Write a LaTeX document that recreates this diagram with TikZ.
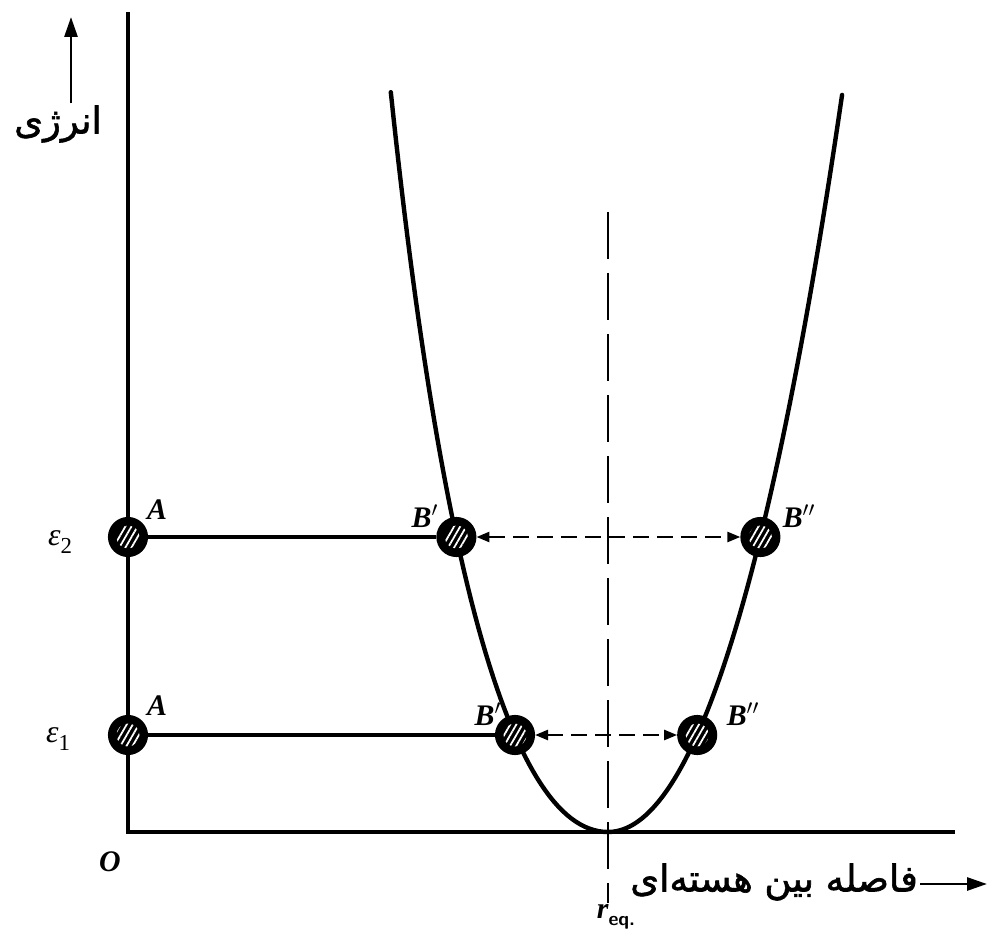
\documentclass[tikz,border=0pt]{standalone}
\usepackage{fontspec}
\setmainfont{Liberation Serif}
\newfontfamily\farsi[Script=Arabic, FakeBold=1.6]{DejaVu Sans}
\TeXXeTstate=1
\usetikzlibrary{arrows.meta,patterns.meta}

\tikzset{
  axis/.style={line width=1.9pt},
  curve/.style={line width=2.5pt, line cap=round},
  level/.style={line width=1.8pt},
  swing/.style={line width=1.4pt, dash pattern=on 3.2mm off 1.6mm, {Triangle[length=2.6mm,width=2mm]}-{Triangle[length=2.6mm,width=2mm]}},
  reqline/.style={line width=1.4pt, dash pattern=on 9.4mm off 2.8mm},
  bigarrow/.style={line width=1.6pt, -{Triangle[length=4mm,width=2.6mm]}},
  ball/.style={circle, draw, fill=black, line width=1.2pt, minimum size=7.6mm, inner sep=0pt,
    path picture={\fill[pattern={Lines[angle=60,distance=3pt,line width=1pt]}, pattern color=white]
      (path picture bounding box.center) circle (2.3mm);}},
  lbl/.style={font=\fontsize{17}{19}\selectfont\bfseries\itshape, inner sep=1pt},
  elbl/.style={font=\fontsize{18}{20}\selectfont, inner sep=1pt},
  fa/.style={font=\fontsize{21}{25}\selectfont\farsi, inner sep=1pt}
}

\begin{document}
\begin{tikzpicture}[x=0.2mm, y=-0.2mm]
  \useasboundingbox (0,0) rectangle (990,944);
  % axes
  \coordinate (O) at (128,832);
  \coordinate (ytop) at (128,12);
  \coordinate (xend) at (955,832);
  \draw[axis] (ytop) -- (O) -- (xend);
  % r_eq line
  \coordinate (rtop) at (608,212);
  \coordinate (rbot) at (608,903);
  \draw[reqline] (rtop) -- (rbot);
  % energy curve (s = sqrt of height above the axis)
  \draw[curve] plot[domain=27.2:0, samples=60] ({608-\x*(10.27-0.084*\x)}, {832-\x*\x})
    -- plot[domain=0:27.15, samples=60] ({608+\x*(9.3-0.025*\x)}, {832-\x*\x});
  % balls
  \node[ball] (A2) at (128,537) {};
  \node[ball] (Bp2) at (456.4,537) {};
  \node[ball] (Bpp2) at (760.4,537) {};
  \node[ball] (A1) at (128,735) {};
  \node[ball] (Bp1) at (515,735) {};
  \node[ball] (Bpp1) at (697.2,735) {};
  \draw[level] (A2) -- (Bp2);
  \draw[swing] (Bp2) -- (Bpp2);
  \draw[level] (A1) -- (Bp1);
  \draw[swing] (Bp1) -- (Bpp1);
  % labels
  \node[lbl] (lA2) at (157,510) {A};
  \node[lbl] (lBp2) at (425,516) {B$'$};
  \node[lbl] (lBpp2) at (799,516) {B$''$};
  \node[lbl] (lA1) at (157,706) {A};
  \node[lbl] (lBp1) at (488,714) {B$'$};
  \node[lbl] (lBpp1) at (743,714) {B$''$};
  \node[elbl] (e2) at (60,542) {\textit{ε}\raisebox{-0.6ex}{\fontsize{13}{14}\selectfont 2}};
  \node[elbl] (e1) at (58,739) {\textit{ε}\raisebox{-0.6ex}{\fontsize{13}{14}\selectfont 1}};
  \node[lbl] (lO) at (110,862) {O};
  \node[lbl] (req) at (616,917) {r\raisebox{-0.5ex}{\fontsize{11}{12}\selectfont\sffamily\bfseries\upshape eq.}};
  % axis names
  \node[fa] (elabel) at (58,124) {\beginR انرژی\endR};
  \coordinate (etop) at (71,17);
  \draw[bigarrow] (elabel.north -| etop) -- (etop);
  \node[fa, anchor=east] (xlabel) at (920,882) {\beginR فاصله بین هسته‌ای\endR};
  \coordinate (xarr) at (987,884);
  \draw[bigarrow] (xlabel.east |- xarr) -- (xarr);
\end{tikzpicture}
\end{document}
